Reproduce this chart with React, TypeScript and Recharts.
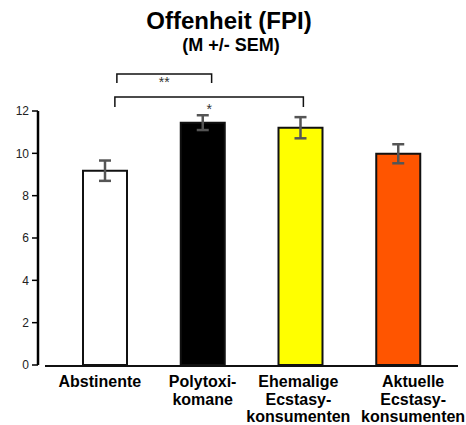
import { BarChart, Bar, Cell, XAxis, YAxis, ErrorBar, ReferenceLine } from 'recharts';

const categories = ['Abstinente', 'Polytoxikomane', 'Ehemalige Ecstasykonsumenten', 'Aktuelle Ecstasykonsumenten'];
const labelLines = [
  ['Abstinente'],
  ['Polytoxi-', 'komane'],
  ['Ehemalige', 'Ecstasy-', 'konsumenten'],
  ['Aktuelle', 'Ecstasy-', 'konsumenten'],
];
const means = [9.18, 11.45, 11.21, 9.98];
const sems = [0.48, 0.35, 0.5, 0.45];
const yTicks = [0, 2, 4, 6, 8, 10, 12];

const FILLS = ['#ffffff', '#000000', '#ffff00', '#ff5500'];
const LABEL_SHIFT = [-5, 0, -2, 15];
const FONT = '"Liberation Sans", Arial, Helvetica, sans-serif';

const data = categories.map((name, i) => ({ name, mean: means[i], sem: sems[i] }));

function CategoryTick({ x, y, payload, index }: any) {
  const lines = labelLines[index] ?? [payload.value];
  return (
    <text
      x={x + LABEL_SHIFT[index]}
      y={y}
      textAnchor="middle"
      fontFamily={FONT}
      fontWeight="bold"
      fontSize={16}
      fill="#000"
    >
      {lines.map((l, i) => (
        <tspan key={i} x={x + LABEL_SHIFT[index]} dy={i === 0 ? 22 : 17.5}>
          {l}
        </tspan>
      ))}
    </text>
  );
}

// bracket with short legs and the star label below it
function bracket(leg: number, dxL: number, dxR: number, stars: string, starDy: number) {
  return (props: any) => {
    const { x1, y1, x2 } = props;
    const l = x1 + dxL;
    const r = x2 + dxR;
    return (
      <g>
        <path
          d={`M${l},${y1 + leg} L${l},${y1} L${r},${y1} L${r},${y1 + leg}`}
          fill="none"
          stroke="#111"
          strokeWidth={1.5}
        />
        <text x={(l + r) / 2} y={y1 + starDy} textAnchor="middle" fontFamily={FONT} fontSize={14} fill="#333">
          {stars}
        </text>
      </g>
    );
  };
}

function xAxisLine(props: any) {
  const { x1, y1, x2 } = props;
  return <line x1={x1 + 7} y1={y1 + 1} x2={x2} y2={y1 + 1} stroke="#111" strokeWidth={1.8} />;
}

export default function App() {
  return (
    <div style={{ position: 'absolute', left: 0, top: 0, width: 466, height: 425, background: '#fff' }}>
      <svg width={466} height={60} style={{ position: 'absolute', left: 0, top: 0 }}>
        <text x={229} y={28.5} textAnchor="middle" fontFamily={FONT} fontWeight="bold" fontSize={24} fill="#000">
          Offenheit (FPI)
        </text>
        <text x={231} y={50.5} textAnchor="middle" fontFamily={FONT} fontWeight="bold" fontSize={18} fill="#000">
          (M +/- SEM)
        </text>
      </svg>
      <BarChart
        width={466}
        height={425}
        data={data}
        margin={{ top: 111, right: 8, left: 0, bottom: 0 }}
        barSize={44}
      >
        <XAxis
          dataKey="name"
          height={60}
          axisLine={false}
          tickLine={false}
          tickSize={0}
          tickMargin={0}
          interval={0}
          padding={{ left: 18, right: 11 }}
          tick={<CategoryTick />}
        />
        <YAxis
          width={38}
          domain={[0, 12]}
          ticks={yTicks}
          tickSize={6}
          tickMargin={3}
          axisLine={{ stroke: '#000', strokeWidth: 2.5 }}
          tickLine={{ stroke: '#000', strokeWidth: 1.5 }}
          tick={{ fontFamily: FONT, fontSize: 12, fill: '#222' }}
        />
        <ReferenceLine y={0} ifOverflow="visible" shape={xAxisLine} />
        <Bar dataKey="mean" stroke="#111" strokeWidth={2} isAnimationActive={false}>
          {data.map((_, i) => (
            <Cell key={i} fill={FILLS[i]} />
          ))}
          <ErrorBar dataKey="sem" width={6} strokeWidth={2.5} stroke="#555" direction="y" />
        </Bar>
        <ReferenceLine
          ifOverflow="visible"
          segment={[
            { x: categories[0], y: 13.75 },
            { x: categories[1], y: 13.75 },
          ]}
          shape={bracket(9, 12, 9, '**', 13.3)}
        />
        <ReferenceLine
          ifOverflow="visible"
          segment={[
            { x: categories[0], y: 12.66 },
            { x: categories[2], y: 12.66 },
          ]}
          shape={bracket(10, 10, 3, '*', 17.3)}
        />
      </BarChart>
    </div>
  );
}
